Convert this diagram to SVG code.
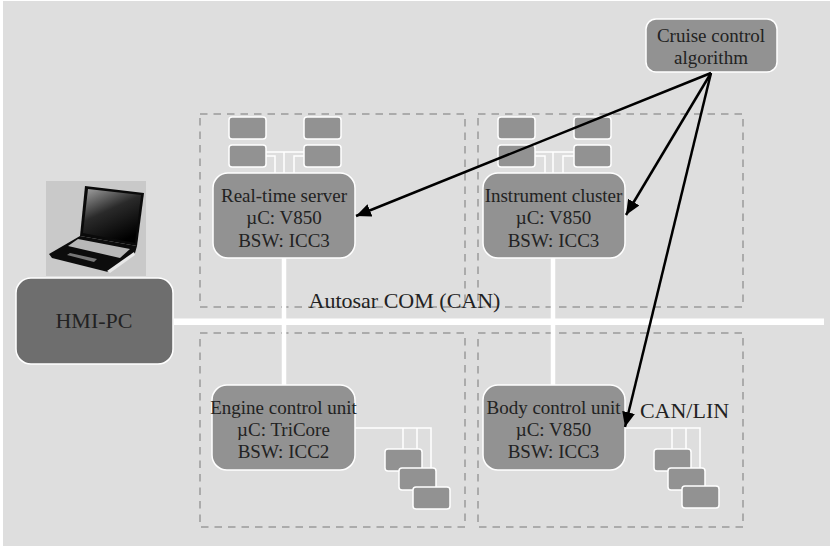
<svg xmlns="http://www.w3.org/2000/svg" width="830" height="547" viewBox="0 0 830 547">
<style>
.bg{fill:#dedede}
.zone{fill:none;stroke:#9a9a9a;stroke-width:1.5;stroke-dasharray:7.500 6}
.main{fill:#929292;stroke:#fff;stroke-width:1.5}
.small{fill:#929292;stroke:#fff;stroke-width:1.5}
.wire{fill:none;stroke:#fff;stroke-width:1.5}
.trunk{fill:none;stroke:#fff;stroke-width:4.500}
.bus{fill:none;stroke:#fff;stroke-width:6.500}
.arrow{fill:none;stroke:#000;stroke-width:2.500;marker-end:url(#ah)}
text{font-family:"Liberation Serif",serif;fill:#222;text-anchor:middle}
.t{font-size:19px}
.l{font-size:22px}
</style>
<defs>
<marker id="ah" markerUnits="userSpaceOnUse" markerWidth="16" markerHeight="14" refX="15" refY="6.5" orient="auto"><path d="M0 0L15 6.5L0 13z" fill="#000"/></marker>
<linearGradient id="scr" x1="0.1" y1="0" x2="0.6" y2="1"><stop offset="0" stop-color="#9a9a9a"/><stop offset=".45" stop-color="#2a2a2a"/><stop offset="1" stop-color="#000"/></linearGradient>
</defs>
<rect width="830" height="547" fill="#fff"/>
<rect class="bg" x="3" y="1" width="827" height="545"/>
<g id="zones">
<rect class="zone" x="200" y="114" width="265" height="193"/>
<rect class="zone" x="478" y="114" width="265" height="193"/>
<rect class="zone" x="200" y="333" width="265" height="194"/>
<rect class="zone" x="478" y="333" width="265" height="194"/>
</g>
<g id="connectors">
<path class="bus" d="M174 321.700H824"/>
<path class="trunk" d="M284 258V385M553 258V385"/>
<path class="wire" d="M266 152H304M284 152V173M266 156H275V173M304 156H294V173"/>
<path class="wire" d="M535 152H574M553 152V173M535 156H545V173M574 156H563V173"/>
<path class="wire" d="M355 428H431V487M403 428V449M417 428V468"/>
<path class="wire" d="M625 428H700V486M672 428V449M686 428V468"/>
</g>
<g id="laptop">
<rect x="46" y="181" width="100" height="95" fill="#c9c9c9"/>
<path d="M85 186L144 193L137 246L80 236z" fill="#0a0a0a"/>
<path d="M88 189L141 195L135 243L83 233z" fill="url(#scr)"/>
<path d="M80 236L137 246L135 253L108 272L52 258L49 254z" fill="#0c0c0c"/>
<path d="M78 239L130 249L120 258L68 246z" fill="#b8b8b8"/>
<path d="M70 253L97 259L94 262L67 255z" fill="#777"/>
<path d="M107 271L134 252L135 255L110 273z" fill="#e8e8e8"/>
</g>
<g id="hmi-pc">
<rect x="16" y="278" width="157" height="86" rx="15" fill="#6e6e6e" stroke="#fff" stroke-width="1.5"/>
<text x="94" y="328" class="l">HMI-PC</text>
</g>
<g id="real-time-server">
<rect class="small" x="229" y="117" width="37" height="22" rx="3"/>
<rect class="small" x="229" y="145" width="37" height="22" rx="3"/>
<rect class="small" x="304" y="117" width="37" height="22" rx="3"/>
<rect class="small" x="304" y="145" width="37" height="22" rx="3"/>
<rect class="main" x="213" y="173" width="142" height="85" rx="15"/>
<text x="284" y="202" class="t">Real-time server</text>
<text x="284" y="224" class="t">µC: V850</text>
<text x="284" y="247" class="t">BSW: ICC3</text>
</g>
<g id="instrument-cluster">
<rect class="small" x="498" y="117" width="37" height="22" rx="3"/>
<rect class="small" x="498" y="145" width="37" height="22" rx="3"/>
<rect class="small" x="574" y="117" width="37" height="22" rx="3"/>
<rect class="small" x="574" y="145" width="37" height="22" rx="3"/>
<rect class="main" x="483" y="173" width="142" height="85" rx="15"/>
<text x="553.500" y="202" class="t">Instrument cluster</text>
<text x="553.500" y="224" class="t">µC: V850</text>
<text x="553.500" y="247" class="t">BSW: ICC3</text>
</g>
<g id="engine-control-unit">
<rect class="main" x="212" y="385" width="143" height="85" rx="15"/>
<text x="283.500" y="414" class="t">Engine control unit</text>
<text x="283.500" y="436" class="t">µC: TriCore</text>
<text x="283.500" y="458" class="t">BSW: ICC2</text>
<rect class="small" x="385" y="449" width="37" height="22" rx="3"/>
<rect class="small" x="399" y="468" width="37" height="22" rx="3"/>
<rect class="small" x="413" y="487" width="37" height="22" rx="3"/>
</g>
<g id="body-control-unit">
<rect class="main" x="483" y="385" width="142" height="85" rx="15"/>
<text x="553.500" y="414" class="t">Body control unit</text>
<text x="553.500" y="436" class="t">µC: V850</text>
<text x="553.500" y="458" class="t">BSW: ICC3</text>
<rect class="small" x="654" y="449" width="37" height="22" rx="3"/>
<rect class="small" x="668" y="468" width="37" height="22" rx="3"/>
<rect class="small" x="682" y="486" width="37" height="22" rx="3"/>
</g>
<g id="cruise-control">
<rect class="main" x="646" y="19" width="131" height="53" rx="10"/>
<text x="711" y="42" class="t">Cruise control</text>
<text x="711" y="64" class="t">algorithm</text>
</g>
<g id="arrows">
<path class="arrow" d="M711 73L356 216"/>
<path class="arrow" d="M711 73L626 215"/>
<path class="arrow" d="M711 73L625 427"/>
</g>
<text x="404.500" y="308" class="l">Autosar COM (CAN)</text>
<text x="684.500" y="418" class="l">CAN/LIN</text>
</svg>
